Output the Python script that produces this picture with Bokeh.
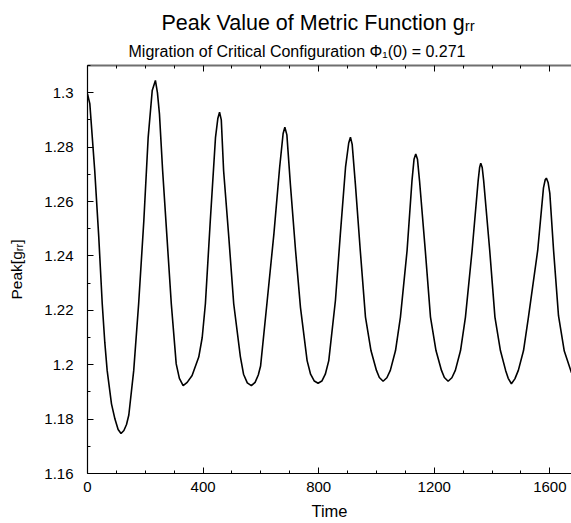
from bokeh.plotting import figure
from bokeh.models import (LinearAxis, FixedTicker, NumeralTickFormatter, Title, Range1d)
from bokeh.embed import file_html
from bokeh.resources import INLINE

# ---- data ----
time = [0, 8, 25, 39, 51, 60, 68, 83, 95, 106, 116, 126, 135, 143, 160, 177, 195, 210, 224,
        235, 242, 249, 260, 275, 290, 307, 318, 331, 345, 362, 385, 397, 408, 425, 443, 451,
        457, 463, 471, 489, 506, 529, 540, 553, 567, 580, 591, 599, 622, 645, 665, 677, 683,
        690, 702, 720, 737, 760, 772, 785, 798, 811, 823, 835, 858, 875, 893, 904, 910, 916,
        927, 944, 962, 981, 1000, 1010, 1023, 1036, 1048, 1066, 1083, 1106, 1123, 1130, 1136,
        1142, 1149, 1169, 1187, 1206, 1225, 1235, 1248, 1261, 1273, 1291, 1308, 1331, 1352,
        1357, 1361, 1366, 1371, 1392, 1410, 1429, 1447, 1456, 1467, 1479, 1491, 1509, 1526,
        1558, 1578, 1584, 1588, 1594, 1600, 1613, 1630, 1650, 1675]
peak_grr = [1.2995, 1.2960, 1.2714, 1.2469, 1.2224, 1.2080, 1.1979, 1.1856, 1.1800, 1.1762,
            1.1747, 1.1758, 1.1780, 1.1815, 1.1979, 1.2224, 1.2530, 1.2836, 1.3008,
            1.3045, 1.3000, 1.2922, 1.2714, 1.2469, 1.2224, 1.2003, 1.1950, 1.1923, 1.1935,
            1.1960, 1.2028, 1.2100, 1.2224, 1.2530, 1.2836, 1.2905,
            1.2928, 1.2900, 1.2714, 1.2469, 1.2224, 1.2030, 1.1965, 1.1933, 1.1923, 1.1935,
            1.1962, 1.1995, 1.2236, 1.2480, 1.2726, 1.2850, 1.2873,
            1.2845, 1.2665, 1.2420, 1.2211, 1.2015, 1.1965, 1.1940, 1.1932, 1.1940, 1.1965,
            1.2015, 1.2236, 1.2480, 1.2726, 1.2815, 1.2836, 1.2810,
            1.2665, 1.2420, 1.2175, 1.2052, 1.1979, 1.1953, 1.1939, 1.1952, 1.1979, 1.2052,
            1.2175, 1.2420, 1.2677, 1.2755, 1.2775,
            1.2755, 1.2677, 1.2420, 1.2175, 1.2052, 1.1979, 1.1953, 1.1939, 1.1952, 1.1979,
            1.2052, 1.2175, 1.2420, 1.2677,
            1.2725, 1.2741, 1.2725, 1.2677, 1.2420, 1.2175, 1.2052, 1.1979, 1.1950, 1.1930,
            1.1948, 1.1979, 1.2052, 1.2175,
            1.2420, 1.2650, 1.2680, 1.2686, 1.2670, 1.2630, 1.2420, 1.2180, 1.2050, 1.1970]

x_major_ticks = [0, 400, 800, 1200, 1600]
x_minor_ticks = [100, 200, 300, 500, 600, 700, 900, 1000, 1100, 1300, 1400, 1500, 1700]
y_major_ticks = [1.16, 1.18, 1.20, 1.22, 1.24, 1.26, 1.28, 1.30]
y_minor_ticks = [1.17, 1.19, 1.21, 1.23, 1.25, 1.27, 1.29, 1.31]

title_text = "Peak Value of Metric Function g\u1d63\u1d63"
subtitle_text = "Migration of Critical Configuration \u03a6\u2081(0) = 0.271"
ylabel_text = "Peak[g\u1d63\u1d63]"
xlabel_text = "Time"

FONT = "Liberation Sans"

W, H = 571, 523
FL, FT, FB = 87, 65, 50   # frame borders (left, top, bottom)

p = figure(width=W, height=H, output_backend="svg", toolbar_location=None, title=None,
           x_range=Range1d(0, 1675), y_range=Range1d(1.16, 1.31),
           min_border_left=FL, min_border_right=0, min_border_top=FT, min_border_bottom=FB,
           x_axis_location=None, y_axis_location=None)
p.outline_line_color = None
p.grid.visible = False
p.background_fill_color = "white"
p.border_fill_color = "white"

xt = FixedTicker(ticks=x_major_ticks, minor_ticks=x_minor_ticks)
yt = FixedTicker(ticks=y_major_ticks, minor_ticks=y_minor_ticks)


def style_axis(ax, color="black", lw=1.2):
    ax.axis_line_color = color
    ax.axis_line_width = lw
    ax.major_tick_in = 6
    ax.major_tick_out = 0
    ax.minor_tick_in = 3
    ax.minor_tick_out = 0
    ax.major_tick_line_color = "black"
    ax.minor_tick_line_color = "black"
    ax.major_tick_line_width = 1
    ax.minor_tick_line_width = 1
    ax.major_label_text_font = FONT
    ax.major_label_text_font_size = "15px"
    ax.major_label_text_color = "black"
    ax.axis_label_text_font = FONT
    ax.axis_label_text_font_style = "normal"
    ax.axis_label_text_color = "black"


xb = LinearAxis(ticker=xt, formatter=NumeralTickFormatter(format="0"),
                axis_label=xlabel_text)
style_axis(xb)
xb.major_label_standoff = 8
xb.axis_label_text_font_size = "16.5px"
xb.axis_label_standoff = 7
p.add_layout(xb, "below")

yl = LinearAxis(ticker=yt, formatter=NumeralTickFormatter(format="0.[00]"),
                axis_label=ylabel_text)
style_axis(yl)
yl.major_label_standoff = 14
yl.axis_label_text_font_size = "15.5px"
yl.axis_label_standoff = 16
p.add_layout(yl, "left")

xa = LinearAxis(ticker=xt, formatter=NumeralTickFormatter(format="0"))
style_axis(xa, color="#6f6f6f", lw=1.8)
xa.major_label_text_font_size = "0px"
xa.major_label_text_color = None
xa.major_label_standoff = 0
p.add_layout(xa, "above")

sub = Title(text=subtitle_text, text_font=FONT, text_font_size="16px",
            text_font_style="normal", text_color="black", align="left",
            offset=128 - 87, standoff=12)
p.add_layout(sub, "above")
main = Title(text=title_text, text_font=FONT, text_font_size="21.5px",
             text_font_style="normal", text_color="black", align="left",
             offset=161 - 87, standoff=0)
p.add_layout(main, "above")

p.line(time, peak_grr, line_color="black", line_width=1.6)

open("out.html", "w").write(file_html(p, INLINE))
